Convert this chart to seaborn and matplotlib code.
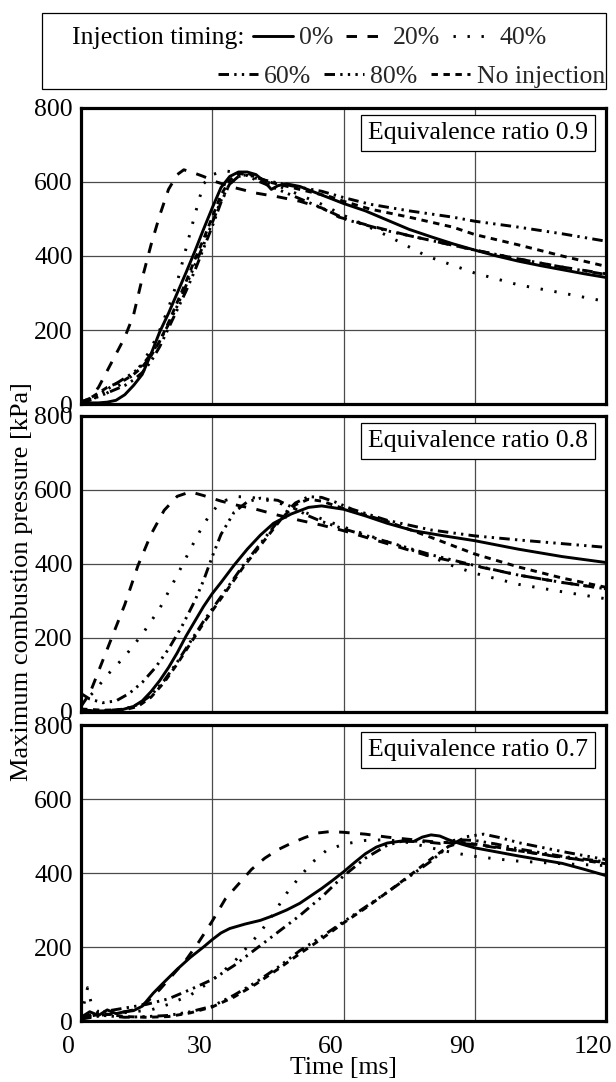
import numpy as np
import pandas as pd
import matplotlib
matplotlib.use("Agg")
import matplotlib.pyplot as plt
import seaborn as sns
from matplotlib.lines import Line2D
from matplotlib.patches import Rectangle
from matplotlib.transforms import ScaledTranslation

# ---------------- data (time [ms], pressure [kPa]) ----------------
TIMINGS = ["0%", "20%", "40%", "60%", "80%", "No injection"]
PHIS = ["0.9", "0.8", "0.7"]
X_TICKS = [0, 30, 60, 90, 120]
Y_TICKS = [0, 200, 400, 600, 800]

# Equivalence ratio 0.9
t09_0 = [0, 2, 4, 6, 8, 10, 12, 14, 16, 18, 20, 22, 24, 26, 28, 30, 32, 34, 36, 38, 40, 42, 43.5, 45, 47, 50, 55, 60, 65, 70, 75, 80, 85, 90, 95, 100, 105, 110, 115, 120]
p09_0 = [8, 3, 3, 5, 10, 25, 50, 80, 135, 195, 245, 300, 355, 412, 472, 530, 585, 615, 627, 627, 620, 600, 580, 590, 595, 588, 565, 542, 522, 497, 472, 452, 433, 416, 400, 386, 374, 363, 352, 342]
t09_20 = [0, 2, 4, 6, 8, 10, 12, 14, 16, 18, 20, 22, 23.5, 25, 28, 31, 35, 40, 45, 50, 55, 59, 65, 70, 75, 80, 90, 100, 110, 120]
p09_20 = [5, 15, 45, 90, 135, 180, 240, 340, 430, 510, 580, 620, 633, 628, 615, 600, 585, 570, 560, 548, 530, 505, 485, 470, 455, 442, 416, 392, 370, 352]
t09_40 = [0, 2, 4, 6, 8, 10, 12, 14, 16, 18, 20, 22, 24, 26, 28, 30, 33, 36, 40, 45, 50, 55, 60, 65, 70, 79, 90, 100, 110, 120]
p09_40 = [10, 20, 15, 30, 45, 60, 80, 110, 150, 200, 260, 330, 420, 510, 595, 620, 630, 625, 610, 590, 565, 540, 510, 483, 455, 400, 354, 322, 300, 277]
t09_60 = [0, 2, 4, 6, 8, 10, 12, 14, 16, 18, 20, 22, 24, 26, 28, 30, 32, 34, 36, 38, 42, 48, 55, 60, 66, 75, 85, 90, 100, 110, 120]
p09_60 = [5, 10, 20, 30, 40, 50, 65, 85, 115, 155, 205, 255, 305, 360, 420, 480, 545, 595, 615, 620, 605, 590, 575, 558, 540, 522, 505, 494, 478, 460, 440]
t09_80 = [0, 2, 4, 6, 8, 10, 12, 14, 16, 18, 20, 22, 24, 26, 28, 30, 32, 34, 36, 38, 40, 45, 50, 55, 61, 70, 80, 90, 100, 110, 120]
p09_80 = [5, 12, 25, 40, 55, 70, 85, 105, 135, 170, 215, 265, 320, 375, 430, 490, 550, 595, 615, 618, 605, 580, 555, 530, 497, 468, 442, 416, 392, 370, 350]
t09_ni = [0, 2, 4, 6, 8, 10, 12, 14, 16, 18, 20, 22, 24, 26, 28, 30, 32, 34, 36, 38, 43, 50, 57, 60, 66, 75, 85, 90, 100, 110, 120]
p09_ni = [5, 15, 30, 45, 55, 65, 80, 100, 130, 170, 220, 275, 330, 390, 445, 505, 565, 605, 622, 624, 600, 580, 560, 548, 527, 505, 478, 458, 430, 400, 372]

# Equivalence ratio 0.8
t08_0 = [0, 3, 6, 9, 12, 14, 16, 18, 20, 22, 24, 26, 28, 30, 32, 35, 38, 41, 44, 48, 52, 55, 60, 65, 70, 76, 83, 90, 100, 110, 120]
p08_0 = [5, 3, 3, 5, 15, 30, 55, 85, 120, 160, 205, 245, 285, 320, 350, 397, 440, 478, 510, 535, 553, 557, 548, 530, 510, 490, 476, 463, 440, 420, 404]
t08_20 = [0, 2, 4, 7, 10, 13, 16, 19, 22, 25, 28, 32, 36, 40, 45, 50, 55, 60, 70, 80, 90, 100, 110, 120]
p08_20 = [15, 50, 110, 200, 290, 395, 480, 545, 583, 595, 585, 570, 558, 548, 532, 518, 505, 490, 455, 420, 395, 370, 350, 333]
t08_40 = [0, 3, 6, 10, 14, 18, 22, 25, 27, 29, 31, 33, 36, 39, 42, 46, 50, 55, 60, 70, 80, 85, 90, 100, 110, 120]
p08_40 = [20, 55, 100, 150, 210, 280, 370, 440, 485, 525, 555, 572, 582, 580, 574, 562, 545, 522, 500, 460, 420, 395, 375, 345, 325, 306]
t08_60 = [0, 5, 10, 13, 16, 19, 22, 25, 28, 31, 34, 37, 40, 43, 46, 49, 52, 55, 58, 62, 70, 80, 90, 100, 110, 120]
p08_60 = [5, 3, 8, 20, 45, 85, 135, 190, 245, 295, 345, 395, 440, 485, 530, 565, 582, 580, 568, 548, 518, 492, 476, 465, 455, 445]
t08_80 = [0, 2, 5, 8, 11, 14, 17, 20, 23, 26, 28, 30, 32, 35, 38, 41, 45, 48, 52, 55, 60, 70, 80, 90, 100, 110, 120]
p08_80 = [50, 35, 25, 30, 50, 80, 120, 170, 230, 300, 355, 420, 480, 540, 568, 578, 572, 555, 530, 515, 495, 460, 425, 396, 370, 350, 333]
t08_ni = [0, 5, 10, 13, 16, 19, 22, 25, 28, 31, 34, 37, 40, 43, 46, 49, 52, 55, 60, 70, 80, 90, 100, 110, 120]
p08_ni = [8, 5, 6, 15, 40, 80, 130, 185, 240, 290, 340, 390, 435, 480, 525, 560, 575, 570, 550, 515, 472, 427, 392, 362, 337]

# Equivalence ratio 0.7
t07_0 = [0, 2, 4, 6, 8, 10, 12, 14, 16.5, 19, 22, 25, 28, 30, 32, 34, 37.5, 41, 44, 47, 50, 52.5, 55, 57.5, 60, 62.5, 65, 67.5, 70, 73, 76, 78, 80, 82, 84, 87, 90, 95, 100, 105, 110, 115, 120]
p07_0 = [10, 25, 15, 30, 20, 25, 28, 40, 75, 105, 140, 172, 200, 220, 238, 250, 262, 272, 285, 300, 318, 338, 358, 380, 403, 428, 452, 470, 481, 486, 485, 497, 503, 500, 490, 478, 468, 457, 446, 436, 426, 410, 393]
t07_20 = [0, 4, 8, 12, 15, 18, 21, 24, 27, 30, 33, 36, 39, 42, 45, 48, 51, 54, 57, 60, 65, 70, 80, 90, 100, 110, 120]
p07_20 = [10, 15, 20, 30, 50, 85, 125, 165, 215, 270, 330, 370, 410, 440, 463, 480, 495, 508, 512, 510, 505, 497, 485, 477, 460, 442, 428]
t07_40 = [0, 1.5, 2.5, 4, 8, 12, 16, 20, 25, 30, 35, 38, 41, 44, 47, 50, 53, 56, 60, 65, 70, 75, 80, 85, 90, 95, 100, 110, 120]
p07_40 = [10, 90, 40, 25, 20, 25, 30, 45, 70, 110, 160, 200, 240, 290, 345, 390, 430, 460, 478, 488, 490, 482, 468, 455, 445, 438, 432, 425, 420]
t07_60 = [0, 5, 10, 15, 20, 25, 30, 35, 40, 45, 50, 55, 60, 65, 70, 74, 78, 82, 86, 90, 95, 100, 110, 120]
p07_60 = [10, 25, 35, 45, 60, 85, 112, 150, 195, 240, 285, 335, 392, 440, 475, 488, 485, 480, 490, 488, 478, 465, 445, 430]
t07_80 = [0, 5, 10, 15, 20, 25, 30, 35, 40, 45, 50, 55, 60, 65, 70, 75, 80, 84, 88, 92, 96, 100, 110, 120]
p07_80 = [5, 15, 10, 12, 15, 25, 40, 70, 105, 145, 190, 228, 268, 308, 348, 390, 432, 472, 498, 505, 495, 482, 458, 436]
t07_ni = [0, 5, 10, 15, 20, 25, 30, 35, 40, 45, 50, 55, 60, 65, 70, 75, 80, 84, 87, 90, 95, 100, 110, 120]
p07_ni = [8, 20, 12, 10, 12, 22, 38, 65, 100, 140, 182, 222, 265, 305, 348, 392, 438, 472, 483, 478, 470, 460, 443, 425]

SERIES = {
    "0.9": [(t09_0, p09_0), (t09_20, p09_20), (t09_40, p09_40), (t09_60, p09_60), (t09_80, p09_80), (t09_ni, p09_ni)],
    "0.8": [(t08_0, p08_0), (t08_20, p08_20), (t08_40, p08_40), (t08_60, p08_60), (t08_80, p08_80), (t08_ni, p08_ni)],
    "0.7": [(t07_0, p07_0), (t07_20, p07_20), (t07_40, p07_40), (t07_60, p07_60), (t07_80, p07_80), (t07_ni, p07_ni)],
}

frames = []
for phi, lst in SERIES.items():
    for name, (tt, pp) in zip(TIMINGS, lst):
        frames.append(pd.DataFrame({"phi": phi, "timing": name, "time": tt, "pressure": pp}))
df = pd.DataFrame(pd.concat(frames, ignore_index=True))

# ---------------- style ----------------
sns.set_theme(style="white")
plt.rcParams["font.family"] = ["Liberation Serif", "DejaVu Serif"]
FS = 18.5
LW = 2.1
DASHES = {
    "0%": "",
    "20%": (3.6, 3.6),
    "40%": (0.8, 4.0),
    "60%": (3.6, 1.8, 0.8, 1.8, 0.8, 1.8),
    "80%": (3.6, 1.8, 0.8, 1.8, 0.8, 1.8, 0.8, 1.8),
    "No injection": (2.2, 1.9),
}

W, H = 616, 1082
fig = plt.figure(figsize=(W / 100, H / 100), dpi=100)
fig.patch.set_facecolor("white")

def fx(px):
    return px / W

def fy(px):
    return 1 - px / H

LEFT, RIGHT = 81, 606
PANELS = [(108, 404), (416, 712), (725, 1021)]

axes = []
for i, ((top, bot), phi) in enumerate(zip(PANELS, PHIS)):
    ax = fig.add_axes([fx(LEFT), fy(bot), (RIGHT - LEFT) / W, (bot - top) / H])
    sub = df[df["phi"] == phi]
    sns.lineplot(data=sub, x="time", y="pressure", style="timing", style_order=TIMINGS,
                 dashes=DASHES, color="black", linewidth=LW, estimator=None, sort=False,
                 legend=False, ax=ax, zorder=3)
    ax.set_xlim(0, 120)
    ax.set_ylim(0, 800)
    ax.set_xticks(X_TICKS)
    ax.set_yticks(Y_TICKS)
    ax.set_yticklabels([str(v) for v in Y_TICKS])
    ax.grid(True, color="#4a4a4a", lw=0.9, zorder=0)
    ax.set_axisbelow(True)
    for sp in ax.spines.values():
        sp.set_visible(True)
        sp.set_color("black")
        sp.set_linewidth(2.3)
    ax.tick_params(axis="both", length=0, labelsize=FS, colors="black")
    ax.tick_params(axis="y", pad=6)
    ax.tick_params(axis="x", pad=11, labelbottom=(i == 2))
    ax.set_xlabel("")
    ax.set_ylabel("")
    # panel label box (top-right corner)
    pad_px = 0.28 * FS * 100 / 72
    bw, bh = RIGHT - LEFT, bot - top
    ax.text((595 - pad_px - LEFT) / bw, (bot - (top + 7 + pad_px)) / bh,
            f"Equivalence ratio {phi}", transform=ax.transAxes, ha="right", va="top",
            fontsize=FS, color="black", zorder=5,
            bbox=dict(boxstyle="square,pad=0.28", fc="white", ec="black", lw=0.9))
    axes.append(ax)

# x label
axb = axes[-1]
axb.set_xlabel("Time [ms]", fontsize=FS, color="black")
axb.xaxis.label.set_va("center")
axb.xaxis.set_label_coords(0.5, -(1068 - 1021) / (1021 - 725))
# shift x tick labels slightly left like reference
off = ScaledTranslation(-13 / 100, 0, fig.dpi_scale_trans)
for lab in axb.get_xticklabels():
    lab.set_transform(lab.get_transform() + off)

# y label
fig.text(fx(22), fy(582), "Maximum combustion pressure [kPa]", rotation=90,
         ha="center", va="center", fontsize=19, color="black")

# ---------------- legend ----------------
fig.add_artist(Rectangle((fx(42), fy(89)), (606 - 42) / W, (89 - 13) / H,
                         transform=fig.transFigure, fill=False, ec="black", lw=0.9))
fig.text(fx(72), fy(38), "Injection timing:", ha="left", va="center", fontsize=FS, color="black")

def handle(name):
    d = DASHES[name]
    ls = "-" if d == "" else (0, d)
    return Line2D([], [], color="black", lw=LW, linestyle=ls)

common = dict(frameon=False, fontsize=FS, borderpad=0, borderaxespad=0,
              handlelength=1.55, handletextpad=0.25, columnspacing=0.5)
leg1 = fig.legend([handle(n) for n in TIMINGS[:3]], TIMINGS[:3], ncol=3, loc="center left",
                  bbox_to_anchor=(fx(253), fy(38)), **common)
leg2 = fig.legend([handle(n) for n in TIMINGS[3:]], TIMINGS[3:], ncol=3, loc="center right",
                  bbox_to_anchor=(fx(605), fy(77)), **common)

fig.savefig("out.png", dpi=100, facecolor="white")
